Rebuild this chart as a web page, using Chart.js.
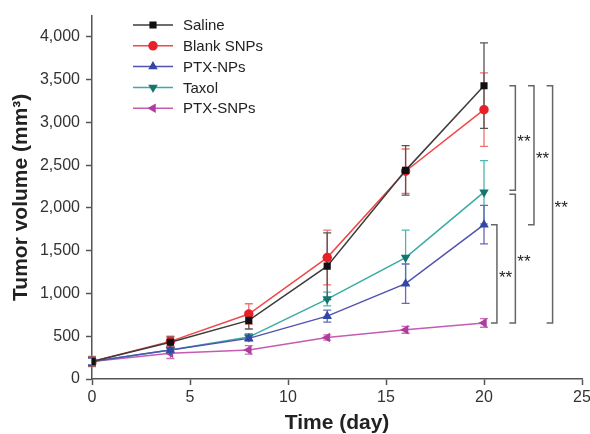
<!DOCTYPE html>
<html>
<head>
<meta charset="utf-8">
<script src="https://cdn.jsdelivr.net/npm/chart.js@4"></script>
<style>
  html, body { margin: 0; padding: 0; background: #fff; }
  #wrap { width: 590px; height: 434px; }
</style>
</head>
<body>
<div id="wrap"><canvas id="tumorChart"></canvas></div>
<script>
const days = [0, 4, 8, 12, 16, 20];
const xTicks = [0, 5, 10, 15, 20, 25];
const yTicks = [0, 500, 1000, 1500, 2000, 2500, 3000, 3500, 4000];

const seriesNames = ["Saline", "Blank SNPs", "PTX-NPs", "Taxol", "PTX-SNPs"];
const saline = [205, 430, 685, 1320, 2440, 3430];
const salineErr = [50, 60, 100, 390, 290, 500];
const blankSnps = [205, 440, 760, 1420, 2430, 3150];
const blankSnpsErr = [55, 60, 120, 320, 260, 430];
const ptxNps = [205, 340, 475, 735, 1115, 1805];
const ptxNpsErr = [40, 40, 30, 70, 230, 225];
const taxol = [205, 340, 490, 935, 1420, 2185];
const taxolErr = [40, 40, 40, 80, 320, 370];
const ptxSnps = [205, 300, 340, 485, 575, 655];
const ptxSnpsErr = [60, 60, 50, 30, 40, 50];

// significance brackets: [upper series, lower series, label]
const brackets = [
  [0, 3, "**"],
  [0, 2, "**"],
  [0, 4, "**"],
  [3, 4, "**"],
  [2, 4, "**"],
];
const bracketX = [21.6, 22.55, 23.5, 21.6, 20.66];

const values = [saline, blankSnps, ptxNps, taxol, ptxSnps];
const errors = [salineErr, blankSnpsErr, ptxNpsErr, taxolErr, ptxSnpsErr];

const FONT = "'Liberation Sans', Arial, sans-serif";

const styles = [
  { line: "#3c3c3c", point: "#111", err: "#555", shape: "rect", rot: 0 },
  { line: "#f04848", point: "#e8202a", err: "#f27070", shape: "circle", rot: 0 },
  { line: "#5053b0", point: "#3446a8", err: "#6668b8", shape: "triangle", rot: 0 },
  { line: "#3aaba4", point: "#16766e", err: "#52b6ae", shape: "triangle", rot: 180 },
  { line: "#c45cb4", point: "#b03c9e", err: "#cc70bc", shape: "triangle", rot: 270 },
];

const datasets = seriesNames.map((name, i) => ({
  label: name,
  data: days.map((d, j) => ({ x: d, y: values[i][j] })),
  borderColor: styles[i].line,
  backgroundColor: styles[i].point,
  pointBackgroundColor: styles[i].point,
  pointBorderColor: styles[i].point,
  pointStyle: styles[i].shape,
  pointRotation: styles[i].rot,
  pointRadius: 4,
  borderWidth: 1.5,
  tension: 0,
}));

const errorBars = {
  id: "errorBars",
  beforeDatasetsDraw(chart) {
    const { ctx, scales: { x, y } } = chart;
    ctx.save();
    ctx.lineWidth = 1.3;
    for (let i = values.length - 1; i >= 0; i--) {
      ctx.strokeStyle = styles[i].err;
      days.forEach((d, j) => {
        const px = x.getPixelForValue(d);
        const top = y.getPixelForValue(values[i][j] + errors[i][j]);
        const bot = y.getPixelForValue(values[i][j] - errors[i][j]);
        ctx.beginPath();
        ctx.moveTo(px, top); ctx.lineTo(px, bot);
        ctx.moveTo(px - 4, top); ctx.lineTo(px + 4, top);
        ctx.moveTo(px - 4, bot); ctx.lineTo(px + 4, bot);
        ctx.stroke();
      });
    }
    ctx.restore();
  },
};

const sigBrackets = {
  id: "sigBrackets",
  afterDatasetsDraw(chart) {
    const { ctx, scales: { x, y } } = chart;
    const last = days.length - 1;
    ctx.save();
    ctx.strokeStyle = "#666";
    ctx.lineWidth = 1.5;
    ctx.fillStyle = "#222";
    ctx.font = "17px " + FONT;
    ctx.textBaseline = "middle";
    brackets.forEach(([a, b, label], k) => {
      const px = x.getPixelForValue(bracketX[k]);
      let top = y.getPixelForValue(values[a][last]);
      let bot = y.getPixelForValue(values[b][last]);
      if (a === 3) top += 2;
      if (b === 3) bot -= 2;
      ctx.beginPath();
      ctx.moveTo(px - 6, top); ctx.lineTo(px, top);
      ctx.lineTo(px, bot); ctx.lineTo(px - 6, bot);
      ctx.stroke();
      ctx.fillText(label, px + 2, (top + bot) / 2 + 4);
    });
    ctx.restore();
  },
};

const innerLegend = {
  id: "innerLegend",
  afterDraw(chart) {
    const { ctx } = chart;
    ctx.save();
    ctx.font = "15px " + FONT;
    ctx.textBaseline = "middle";
    seriesNames.forEach((name, i) => {
      const yy = 25 + i * 20.8;
      ctx.strokeStyle = styles[i].line;
      ctx.lineWidth = 1.5;
      ctx.beginPath();
      ctx.moveTo(133, yy); ctx.lineTo(173, yy);
      ctx.stroke();
      ctx.fillStyle = styles[i].point;
      ctx.strokeStyle = styles[i].point;
      Chart.helpers.drawPoint(ctx, { pointStyle: styles[i].shape, radius: 4, rotation: styles[i].rot, borderWidth: 1 }, 153, yy);
      ctx.fillStyle = "#222";
      ctx.fillText(name, 183, yy + 1);
    });
    ctx.restore();
  },
};

new Chart(document.getElementById("tumorChart"), {
  type: "line",
  data: { datasets },
  plugins: [errorBars, sigBrackets, innerLegend],
  options: {
    responsive: true,
    maintainAspectRatio: false,
    animation: false,
    layout: { padding: { top: 10, right: 8, left: 0, bottom: 0 } },
    plugins: { legend: { display: false }, tooltip: { enabled: false } },
    scales: {
      x: {
        type: "linear",
        min: 0,
        max: 25,
        afterBuildTicks: (s) => { s.ticks = xTicks.map((v) => ({ value: v })); },
        afterFit: (s) => { s.height = 55; s.paddingRight = 0; s.paddingLeft = 0; },
        border: { color: "#555", width: 1.5 },
        grid: { drawOnChartArea: false, tickLength: 6, color: "#555", tickWidth: 1.5 },
        ticks: { color: "#333", padding: 3, font: { size: 16, family: FONT } },
        title: {
          display: true,
          text: "Time (day)",
          color: "#222",
          padding: { top: 0, bottom: 0 },
          font: { size: 21, weight: "bold", family: FONT, lineHeight: 1 },
        },
      },
      y: {
        min: 0,
        max: 4250,
        afterBuildTicks: (s) => { s.ticks = yTicks.map((v) => ({ value: v })); },
        afterFit: (s) => { s.width = 92; },
        border: { color: "#555", width: 1.5 },
        grid: { drawOnChartArea: false, tickLength: 6, color: "#555", tickWidth: 1.5 },
        ticks: {
          color: "#333",
          padding: 6,
          font: { size: 16, family: FONT },
          callback: (v) => v.toLocaleString("en-US"),
        },
        title: {
          display: true,
          text: "Tumor volume (mm³)",
          color: "#222",
          padding: { top: 11, bottom: 0 },
          font: { size: 21, weight: "bold", family: FONT, lineHeight: 1 },
        },
      },
    },
  },
});
</script>
</body>
</html>
